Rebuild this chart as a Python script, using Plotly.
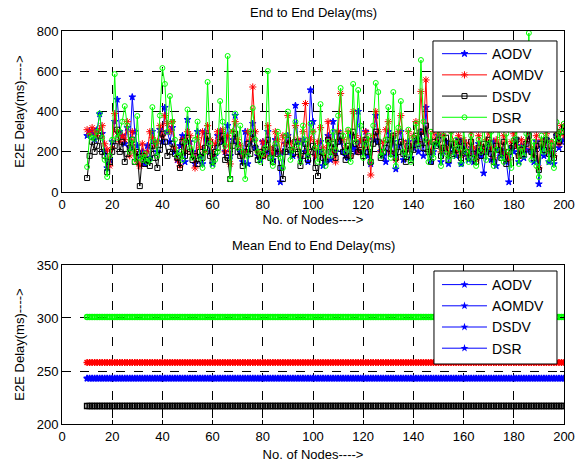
import plotly.graph_objects as go

nodes = list(range(10, 201))

aodv = [280, 300, 290, 260, 310, 388, 290, 200, 120, 160,
        250, 350, 460, 300, 280, 240, 320, 220, 472, 300,
        230, 180, 200, 140, 230, 170, 300, 250, 200, 310,
        250, 420, 300, 250, 320, 200, 160, 230, 280, 150,
        360, 250, 200, 140, 300, 180, 140, 300, 250, 200,
        140, 180, 280, 300, 250, 200, 330, 180, 260, 380,
        240, 200, 150, 300, 140, 250, 340, 220, 180, 160,
        250, 200, 300, 190, 160, 260, 200, 50, 200, 240,
        280, 200, 180, 430, 250, 170, 260, 200, 150, 507,
        350, 180, 200, 250, 130, 150, 280, 160, 350, 200,
        300, 250, 200, 180, 170, 280, 220, 200, 400, 250,
        200, 300, 180, 140, 260, 380, 250, 200, 180, 150,
        300, 200, 250, 114, 230, 300, 160, 200, 250, 170,
        220, 260, 200, 300, 180, 420, 250, 150, 200, 240,
        280, 150, 200, 250, 140, 230, 200, 180, 260, 140,
        250, 190, 160, 220, 150, 200, 240, 180, 94, 200,
        230, 160, 250, 130, 210, 180, 200, 150, 50, 220,
        200, 260, 150, 230, 170, 210, 300, 200, 150, 250,
        40, 220, 180, 260, 150, 200, 140, 280, 220, 250,
        260]

aomdv = [310, 290, 320, 300, 280, 310, 330, 240, 210, 130,
         220, 390, 300, 250, 280, 260, 350, 180, 300, 200,
         150, 130, 240, 180, 200, 300, 270, 230, 250, 330,
         280, 380, 340, 300, 350, 220, 160, 130, 260, 200,
         300, 280, 190, 120, 270, 220, 300, 200, 330, 260,
         180, 240, 300, 260, 310, 200, 280, 140, 300, 350,
         260, 230, 180, 200, 300, 260, 522, 300, 200, 180,
         250, 180, 330, 220, 190, 300, 260, 200, 280, 240,
         380, 250, 210, 330, 260, 180, 300, 440, 200, 260,
         300, 180, 250, 320, 220, 170, 350, 260, 200, 150,
         300, 490, 260, 220, 300, 180, 400, 280, 200, 260,
         220, 300, 260, 85, 280, 400, 300, 200, 250, 310,
         350, 200, 280, 160, 300, 380, 250, 200, 300, 220,
         280, 350, 250, 500, 300, 557, 250, 200, 300, 260,
         300, 200, 280, 220, 190, 300, 250, 200, 280, 180,
         260, 240, 190, 300, 220, 160, 280, 230, 200, 260,
         300, 220, 170, 260, 240, 200, 280, 190, 160, 250,
         290, 230, 180, 260, 210, 250, 330, 220, 180, 280,
         120, 260, 230, 290, 200, 250, 180, 300, 240, 330,
         280]

dsdv = [70, 180, 250, 200, 230, 280, 200, 180, 100, 150,
        200, 230, 310, 200, 250, 150, 190, 220, 260, 150,
        200, 30, 180, 140, 160, 130, 230, 170, 120, 210,
        290, 250, 180, 200, 240, 190, 170, 120, 250, 180,
        270, 200, 160, 180, 140, 200, 170, 220, 280, 180,
        150, 200, 220, 250, 280, 160, 170, 65, 230, 290,
        200, 180, 130, 200, 240, 190, 290, 220, 160, 200,
        180, 210, 260, 170, 150, 220, 190, 120, 65, 200,
        260, 210, 190, 250, 200, 130, 180, 240, 160, 200,
        230, 120, 80, 200, 170, 150, 260, 200, 240, 170,
        250, 280, 200, 160, 230, 180, 300, 240, 200, 210,
        180, 260, 200, 150, 240, 300, 250, 170, 200, 220,
        260, 190, 280, 170, 200, 250, 190, 150, 230, 160,
        210, 280, 240, 300, 220, 330, 200, 150, 250, 230,
        260, 180, 220, 270, 160, 240, 190, 210, 250, 170,
        230, 200, 170, 250, 190, 150, 220, 180, 240, 200,
        260, 190, 150, 230, 210, 170, 250, 140, 200, 220,
        230, 260, 180, 210, 190, 240, 280, 200, 170, 230,
        110, 240, 210, 260, 190, 230, 170, 280, 250, 300,
        320]

dsr = [125, 280, 270, 265, 300, 390, 270, 160, 75, 180,
       260, 586, 270, 300, 350, 427, 330, 200, 260, 150,
       378, 170, 160, 190, 150, 160, 422, 250, 180, 380,
       616, 537, 300, 477, 350, 260, 180, 200, 160, 250,
       410, 220, 170, 260, 350, 170, 120, 200, 547, 240,
       130, 160, 200, 452, 350, 230, 676, 65, 300, 390,
       220, 330, 200, 65, 180, 300, 417, 260, 200, 150,
       190, 220, 601, 170, 130, 240, 300, 170, 120, 280,
       400, 160, 210, 350, 240, 150, 330, 260, 180, 340,
       300, 220, 150, 437, 200, 130, 250, 180, 300, 210,
       380, 517, 280, 200, 310, 150, 537, 250, 507, 330,
       170, 240, 280, 150, 330, 542, 497, 180, 200, 260,
       422, 170, 497, 130, 320, 452, 200, 180, 310, 150,
       270, 340, 230, 656, 350, 260, 150, 300, 170, 240,
       330, 130, 280, 190, 160, 300, 180, 260, 220, 140,
       310, 200, 150, 280, 170, 130, 260, 200, 350, 160,
       240, 300, 130, 210, 330, 170, 150, 290, 200, 120,
       260, 310, 140, 220, 180, 290, 790, 160, 250, 130,
       75, 280, 200, 310, 150, 250, 120, 348, 260, 300,
       340]

protocols = ["AODV", "AOMDV", "DSDV", "DSR"]
mean_delay = [243, 258, 217, 301]

series = [aodv, aomdv, dsdv, dsr]
colors = ["#0000ff", "#ff0000", "#000000", "#00ff00"]
symbols = ["star", "asterisk-open", "square-open", "circle-open"]
msizes = [5, 6, 5, 5]

fig = go.Figure()

for name, ys, c, s, ms in zip(protocols, series, colors, symbols, msizes):
    fig.add_trace(go.Scatter(
        x=nodes, y=ys, name=name, mode="lines+markers",
        line=dict(color=c, width=1),
        marker=dict(symbol=s, size=ms, color=c, line=dict(color=c, width=1)),
        xaxis="x", yaxis="y", legend="legend"))

for name, m, c, s, ms in zip(protocols, mean_delay, colors, symbols, msizes):
    fig.add_trace(go.Scatter(
        x=nodes, y=[m] * len(nodes), name=name, mode="lines+markers",
        line=dict(color=c, width=1),
        marker=dict(symbol=s, size=ms, color=c, line=dict(color=c, width=1.5)),
        xaxis="x2", yaxis="y2", showlegend=False))

# legend entries of the lower panel (all drawn in blue, as in the original)
for name in protocols:
    fig.add_trace(go.Scatter(
        x=[None], y=[None], name=name, mode="lines+markers",
        line=dict(color="#0000ff", width=1),
        marker=dict(symbol="star", size=6, color="#0000ff"),
        xaxis="x2", yaxis="y2", legend="legend2"))

axis_common = dict(
    showline=True, linecolor="black", linewidth=1, mirror="ticks",
    ticks="inside", ticklen=4, tickcolor="black",
    showgrid=True, gridcolor="black", gridwidth=1, griddash="dash",
    zeroline=False, tickfont=dict(size=13, color="black"), automargin=False,
    ticklabeloverflow="allow",
)

legend_common = dict(
    xanchor="left", yanchor="top", bgcolor="rgba(0,0,0,0)", borderwidth=0,
    font=dict(size=14, color="black"), itemwidth=45, tracegroupgap=0,
)

fig.update_layout(
    width=576, height=466,
    margin=dict(l=62, r=12, t=31, b=42),
    paper_bgcolor="white", plot_bgcolor="white",
    font=dict(family="Liberation Sans, Arial, sans-serif", color="black", size=13),
    xaxis=dict(domain=[0, 1], range=[0, 200], tickvals=list(range(0, 201, 20)),
               anchor="y", title=dict(text="No. of Nodes---->", standoff=2, font=dict(size=13)),
               **axis_common),
    yaxis=dict(domain=[0.590, 1], range=[0, 800], tickvals=list(range(0, 801, 200)),
               anchor="x", title=dict(text="E2E Delay(ms)---->", standoff=9, font=dict(size=13)),
               **axis_common),
    xaxis2=dict(domain=[0, 1], range=[0, 200], tickvals=list(range(0, 201, 20)),
                anchor="y2", title=dict(text="No. of Nodes---->", standoff=7, font=dict(size=13)),
                **axis_common),
    yaxis2=dict(domain=[0, 0.4046], range=[200, 350], tickvals=list(range(200, 351, 50)),
                anchor="x2", title=dict(text="E2E Delay(ms)---->", standoff=9, font=dict(size=13)),
                **axis_common),
    legend=dict(x=0.747, y=0.982, **legend_common),
    legend2=dict(x=0.747, y=0.3944, **legend_common),
    shapes=[
        dict(type="rect", xref="paper", yref="paper", x0=0.739, x1=0.986,
             y0=0.743, y1=0.9746, fillcolor="white", line=dict(color="black", width=1),
             layer="above"),
        dict(type="rect", xref="paper", yref="paper", x0=0.741, x1=0.986,
             y0=0.1527, y1=0.3893, fillcolor="white", line=dict(color="black", width=1),
             layer="above"),
    ],
    annotations=[
        dict(text="End to End Delay(ms)", x=0.5, y=1.048, xref="paper", yref="paper",
             xanchor="center", yanchor="middle", showarrow=False, font=dict(size=13)),
        dict(text="Mean End to End Delay(ms)", x=0.5, y=0.453, xref="paper", yref="paper",
             xanchor="center", yanchor="middle", showarrow=False, font=dict(size=13)),
    ],
)

fig.write_html("out.html", config={"displayModeBar": False},
               post_script="document.body.style.margin='0';")
